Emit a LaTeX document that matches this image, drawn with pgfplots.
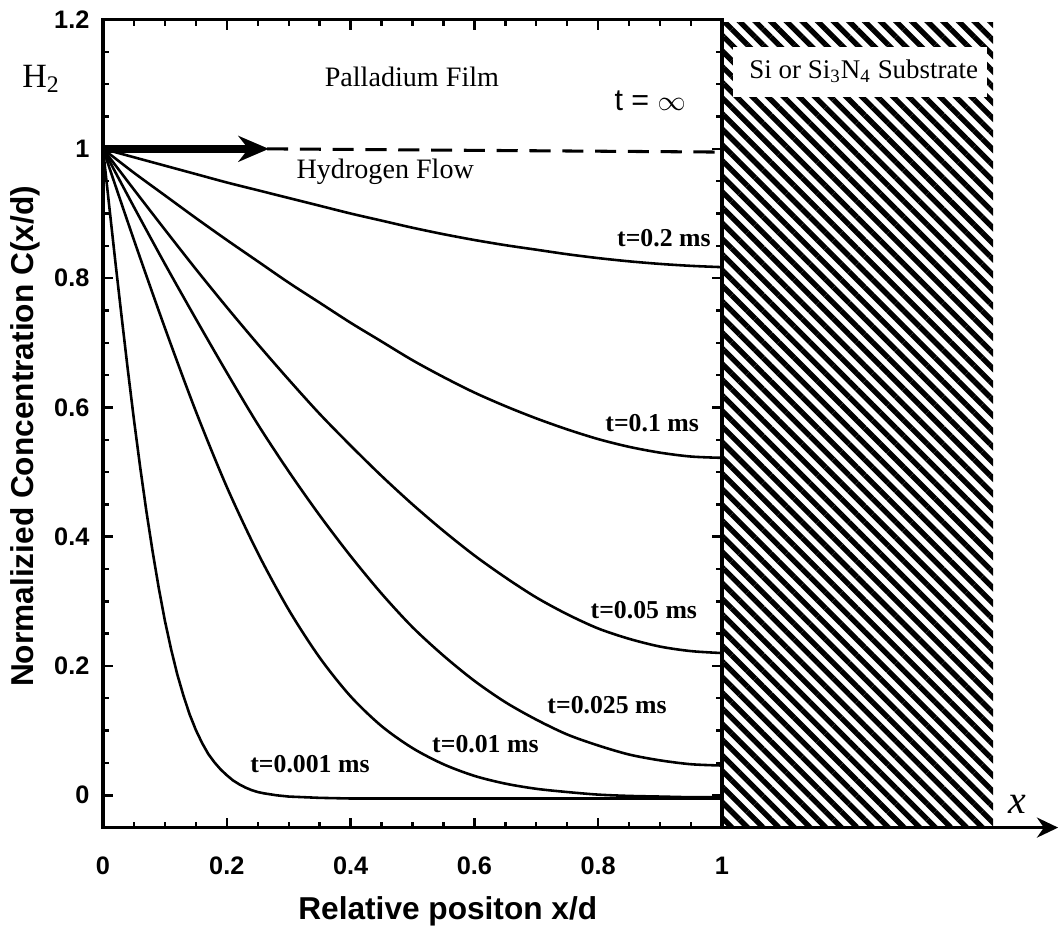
\documentclass[border=0pt]{standalone}
\usepackage{pgfplots}
\pgfplotsset{compat=1.18}
\usepackage{fontspec}
\setmainfont{Liberation Serif}
\setsansfont{Liberation Sans}
\usetikzlibrary{patterns.meta,arrows.meta}

\begin{document}
\begin{tikzpicture}
\begin{axis}[
  scale only axis, width=9.285cm, height=12.12cm,
  xmin=0, xmax=1, ymin=-0.05, ymax=1.2,
  clip=false,
  xtick={0,0.2,0.4,0.6,0.8,1},
  ytick={0,0.2,0.4,0.6,0.8,1,1.2},
  minor x tick num=3, minor y tick num=3,
  axis line style={line width=1.6pt},
  major tick length=0.15cm, minor tick length=0.09cm,
  every major tick/.append style={line width=1.1pt, black},
  every minor tick/.append style={line width=1.0pt, black},
  tick label style={font=\sffamily\bfseries\fontsize{10.8}{12}\selectfont},
  /pgf/number format/assume math mode=true,
  xticklabel style={yshift=-0.32cm},
  yticklabel style={xshift=-0.08cm},
  xlabel={Relative positon x/d},
  ylabel={Normalizied Concentration C(x/d)},
  label style={font=\sffamily\bfseries\fontsize{13.5}{15}\selectfont},
  xlabel style={at={(axis description cs:0.557,-0.104)}, anchor=center},
  ylabel style={at={(axis description cs:-0.126,0.484)}, anchor=center},
]
% substrate hatch
\fill[pattern={Lines[angle=-45,distance=0.166cm,line width=0.08cm]}] (axis cs:1,-0.05) rectangle (axis cs:1.438,1.195);
\fill[white] (axis cs:1.018,1.080) rectangle (axis cs:1.428,1.157);
\node[font=\fontsize{11.5}{13}\selectfont] at (axis cs:1.229,1.120) {Si or Si\textsubscript{3}N\textsubscript{4} Substrate};

% curves
\addplot[line width=1.1pt, black] coordinates {
(0,1) (0.01,0.912) (0.02,0.825) (0.03,0.741) (0.04,0.659) (0.05,0.581) (0.06,0.508) (0.07,0.440) (0.08,0.378) (0.09,0.321) (0.10,0.270) (0.11,0.226) (0.12,0.187) (0.13,0.154) (0.14,0.125) (0.15,0.101) (0.16,0.081) (0.17,0.064) (0.18,0.051) (0.19,0.040) (0.20,0.031) (0.21,0.023) (0.22,0.017) (0.23,0.012) (0.24,0.008) (0.25,0.005) (0.26,0.003) (0.28,0.000) (0.30,-0.002) (0.35,-0.004) (0.4,-0.005) (0.6,-0.005) (1,-0.005)};
\addplot[line width=1.1pt, black, smooth] coordinates {
(0,1) (0.05,0.859) (0.10,0.723) (0.15,0.594) (0.20,0.477) (0.25,0.375) (0.30,0.287) (0.35,0.213) (0.40,0.153) (0.45,0.107) (0.50,0.073) (0.55,0.048) (0.60,0.030) (0.65,0.018) (0.70,0.010) (0.75,0.005) (0.80,0.001) (0.85,-0.001) (0.90,-0.002) (0.95,-0.003) (1.00,-0.003)};
\addplot[line width=1.1pt, black, smooth] coordinates {
(0,1) (0.05,0.910) (0.10,0.822) (0.15,0.737) (0.20,0.654) (0.25,0.574) (0.30,0.501) (0.35,0.433) (0.40,0.370) (0.45,0.312) (0.50,0.260) (0.55,0.216) (0.60,0.177) (0.65,0.144) (0.70,0.117) (0.75,0.094) (0.80,0.077) (0.85,0.063) (0.90,0.054) (0.95,0.048) (1.00,0.046)};
\addplot[line width=1.1pt, black, smooth] coordinates {
(0,1) (0.05,0.937) (0.10,0.875) (0.15,0.814) (0.20,0.755) (0.25,0.698) (0.30,0.643) (0.35,0.590) (0.40,0.541) (0.45,0.494) (0.50,0.450) (0.55,0.409) (0.60,0.371) (0.65,0.337) (0.70,0.306) (0.75,0.280) (0.80,0.258) (0.85,0.242) (0.90,0.230) (0.95,0.223) (1.00,0.220)};
\addplot[line width=1.1pt, black, smooth] coordinates {
(0,1) (0.05,0.963) (0.10,0.928) (0.15,0.893) (0.20,0.859) (0.25,0.826) (0.30,0.793) (0.35,0.762) (0.40,0.731) (0.45,0.702) (0.50,0.673) (0.55,0.647) (0.60,0.623) (0.65,0.602) (0.70,0.583) (0.75,0.566) (0.80,0.551) (0.85,0.539) (0.90,0.530) (0.95,0.524) (1.00,0.522)};
\addplot[line width=1.1pt, black, smooth] coordinates {
(0,1) (0.05,0.987) (0.10,0.974) (0.15,0.961) (0.20,0.948) (0.25,0.936) (0.30,0.924) (0.35,0.912) (0.40,0.900) (0.45,0.889) (0.50,0.878) (0.55,0.868) (0.60,0.859) (0.65,0.851) (0.70,0.844) (0.75,0.837) (0.80,0.831) (0.85,0.826) (0.90,0.822) (0.95,0.819) (1.00,0.817)};
% t = infinity
\addplot[line width=1.3pt, black, dash pattern=on 9pt off 5pt] coordinates {(0.265,1.0) (1,0.995)};

% arrows
\draw[line width=3.4pt, -{Stealth[length=13pt,width=11pt]}] (axis cs:0,1) -- (axis cs:0.268,1);
\draw[line width=1.6pt, -{Stealth[length=9pt,width=8.5pt]}] (axis cs:1,-0.05) -- (axis cs:1.543,-0.05);

% labels
\node[font=\fontsize{12}{14}\selectfont] at (axis cs:0.499,1.111) {Palladium Film};
\node[font=\fontsize{12}{14}\selectfont] at (axis cs:0.456,0.964) {Hydrogen Flow};
\node[font=\sffamily\fontsize{13}{14}\selectfont] at (axis cs:0.884,1.074) {t = $\infty$};
\node[font=\fontsize{14.5}{16}\selectfont] at (axis cs:-0.100,1.108) {H\textsubscript{2}};
\node[font=\itshape\fontsize{17}{18}\selectfont] at (axis cs:1.477,-0.014) {x};
\node[anchor=east, font=\bfseries\fontsize{11}{13}\selectfont] at (axis cs:0.995,0.862) {t=0.2 ms};
\node[anchor=east, font=\bfseries\fontsize{11}{13}\selectfont] at (axis cs:0.976,0.576) {t=0.1 ms};
\node[anchor=east, font=\bfseries\fontsize{11}{13}\selectfont] at (axis cs:0.973,0.287) {t=0.05 ms};
\node[anchor=east, font=\bfseries\fontsize{11}{13}\selectfont] at (axis cs:0.924,0.139) {t=0.025 ms};
\node[anchor=east, font=\bfseries\fontsize{11}{13}\selectfont] at (axis cs:0.717,0.079) {t=0.01 ms};
\node[anchor=east, font=\bfseries\fontsize{11}{13}\selectfont] at (axis cs:0.444,0.048) {t=0.001 ms};

\coordinate (BL) at (axis cs:-0.1664,-0.2009);
\coordinate (TR) at (axis cs:1.5444,1.2303);
\end{axis}
\pgfresetboundingbox
\path (BL) rectangle (TR);
\end{tikzpicture}
\end{document}
